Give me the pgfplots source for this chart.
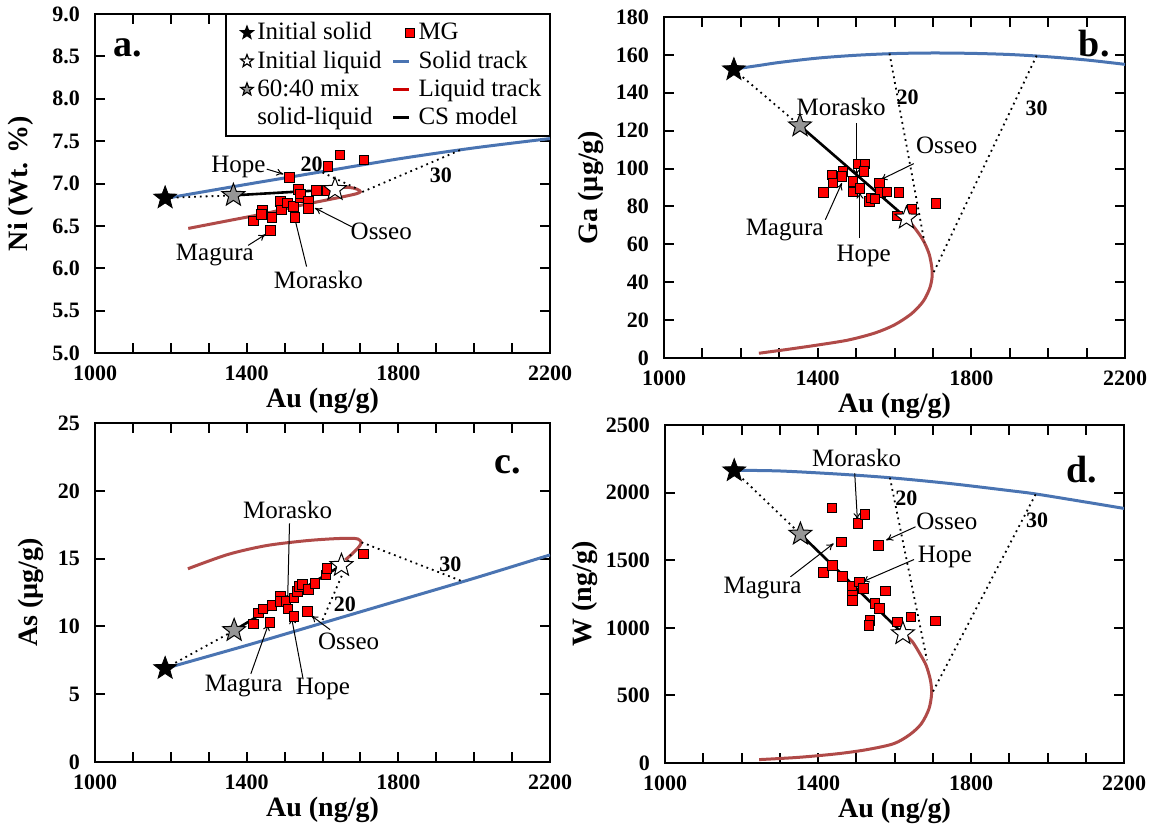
\documentclass[border=0pt]{standalone}
\usepackage{fontspec}
\setmainfont{Liberation Serif}
\usepackage{pgfplots}
\pgfplotsset{compat=1.18}
\usetikzlibrary{arrows.meta}

\definecolor{soltrk}{RGB}{74,116,178}
\definecolor{liqtrk}{RGB}{176,74,72}
\definecolor{mgred}{RGB}{255,0,0}
\definecolor{mixgrey}{RGB}{150,150,150}

\pgfdeclareplotmark{pstar}{%
  \pgfpathmoveto{\pgfpointpolar{90}{\pgfplotmarksize}}%
  \pgfpathlineto{\pgfpointpolar{126}{0.42*\pgfplotmarksize}}%
  \pgfpathlineto{\pgfpointpolar{162}{\pgfplotmarksize}}%
  \pgfpathlineto{\pgfpointpolar{198}{0.42*\pgfplotmarksize}}%
  \pgfpathlineto{\pgfpointpolar{234}{\pgfplotmarksize}}%
  \pgfpathlineto{\pgfpointpolar{270}{0.42*\pgfplotmarksize}}%
  \pgfpathlineto{\pgfpointpolar{306}{\pgfplotmarksize}}%
  \pgfpathlineto{\pgfpointpolar{342}{0.42*\pgfplotmarksize}}%
  \pgfpathlineto{\pgfpointpolar{18}{\pgfplotmarksize}}%
  \pgfpathlineto{\pgfpointpolar{54}{0.42*\pgfplotmarksize}}%
  \pgfpathclose
  \pgfusepathqfillstroke
}

\pgfplotsset{
  panel/.style={
    scale only axis,
    xmin=1000, xmax=2200,
    xtick={1000,1400,1800,2200},
    minor xtick={1100,1200,1300,1500,1600,1700,1900,2000,2100},
    xtick pos=both, ytick pos=both,
    xtick align=inside, ytick align=inside,
    major tick length=5pt, minor tick length=5pt,
    axis line style={line width=1pt},
    major tick style={draw=black, line width=1pt},
    minor tick style={draw=black, line width=1pt},
    tick label style={font=\bfseries\fontsize{11}{12}\selectfont},
    xticklabel style={yshift=-3pt},
    yticklabel style={xshift=-4pt},
    /pgf/number format/assume math mode=true,
    /pgf/number format/1000 sep={},
    xlabel={Au (ng/g)},
    xlabel style={at={([yshift=-24pt]axis description cs:0.5,0)}, anchor=center,
      font=\bfseries\fontsize{14}{16}\selectfont},
  },
  ylab/.style={ylabel style={at={([xshift=-#1]axis description cs:0,0.5)}, anchor=center,
      font=\bfseries\fontsize{14}{16}\selectfont}},
  soltrack/.style={soltrk, line width=1.5pt, smooth},
  liqtrack/.style={liqtrk, line width=1.5pt, smooth},
  tie/.style={black, dotted, line width=0.9pt},
  csline/.style={black, line width=1.3pt},
  mg/.style={only marks, mark=square*, mark size=2.4pt, mark options={fill=mgred, draw=black, line width=0.3pt}},
  sstar/.style={only marks, mark=pstar, mark size=6pt, mark options={fill=black, draw=black, line width=0.4pt}},
  lstar/.style={only marks, mark=pstar, mark size=6pt, mark options={fill=white, draw=black, line width=0.5pt}},
  mstar/.style={only marks, mark=pstar, mark size=6pt, mark options={fill=mixgrey, draw=black, line width=0.5pt}},
}
\tikzset{
  ann/.style={font=\fontsize{12.5}{14}\selectfont},
  bnum/.style={font=\bfseries\fontsize{11}{12}\selectfont},
  plab/.style={font=\bfseries\fontsize{19}{20}\selectfont},
  annarrow/.style={-{To[length=3.5pt,width=3.5pt]}, line width=0.5pt, black},
}

\begin{document}
\begin{tikzpicture}
\useasboundingbox (0,0) rectangle (579pt,-414pt);

% ---------------- panel a ----------------
\begin{axis}[panel, ylab=37pt, at={(47.5pt,-176.5pt)}, anchor=south west,
  width=227.5pt, height=169.5pt,
  ymin=5, ymax=9, ytick={5,5.5,6,6.5,7,7.5,8,8.5,9},
  yticklabel style={/pgf/number format/.cd, fixed, fixed zerofill, precision=1},
  ylabel={Ni (Wt. \%)},
  legend columns=2,
  legend cell align=left,
  legend style={at={(1,1)}, anchor=north east, draw=black, line width=0.6pt, fill=white,
    font=\fontsize{12.5}{13}\selectfont, row sep=0pt, inner sep=2pt,
    /tikz/every even column/.append style={column sep=3pt}},
]
\addplot[soltrack, forget plot] coordinates {(1180,6.82)(1400,6.99)(1600,7.14)(1800,7.29)(2000,7.42)(2200,7.53)};
\addplot[liqtrack, forget plot] coordinates {(1630,6.95)(1668,6.955)(1690,6.935)(1700,6.905)(1690,6.88)(1650,6.84)(1550,6.75)(1453,6.65)(1350,6.56)(1246,6.47)};
\addplot[tie, forget plot] coordinates {(1185,6.83)(1365,6.86)};
\addplot[tie, forget plot] coordinates {(1600,7.13)(1695,6.93)};
\addplot[tie, forget plot] coordinates {(1705,6.90)(1966,7.40)};
\addplot[mg, forget plot] coordinates {(1417,6.56)(1441,6.69)(1438,6.64)(1466,6.60)(1463,6.45)(1488,6.79)(1492,6.69)(1507,6.77)(1512,7.07)(1527,6.60)(1523,6.73)(1536,6.93)(1541,6.83)(1541,6.88)(1562,6.79)(1562,6.71)(1583,6.92)(1611,6.92)(1614,7.20)(1646,7.34)(1709,7.28)};
\addplot[csline, forget plot] coordinates {(1365,6.86)(1633,6.93)};
\addplot[sstar, forget plot] coordinates {(1185,6.83)};
\addplot[mstar, forget plot] coordinates {(1365,6.86)};
\addplot[lstar, forget plot] coordinates {(1633,6.93)};
\node[ann] at (axis cs:1378,7.20) {Hope};
\draw[annarrow] (axis cs:1453,7.17) -- (axis cs:1497,7.11);
\node[ann] at (axis cs:1755,6.43) {Osseo};
\draw[annarrow] (axis cs:1677,6.49) -- (axis cs:1580,6.71);
\node[ann] at (axis cs:1316,6.16) {Magura};
\draw[annarrow] (axis cs:1404,6.27) -- (axis cs:1450,6.40);
\node[ann] at (axis cs:1589,5.86) {Morasko};
\draw[annarrow] (axis cs:1558,6.02) -- (axis cs:1519,6.73);
\node[bnum] at (axis cs:1571,7.23) {20};
\node[bnum] at (axis cs:1912,7.10) {30};
\node[plab] at (axis cs:1087,8.6) {a.};
% legend
\addlegendimage{only marks, mark=pstar, mark size=3.3pt, mark options={fill=black, draw=black}}
\addlegendentry{Initial solid}
\addlegendimage{only marks, mark=square*, mark size=2.2pt, mark options={fill=mgred, draw=black, line width=0.3pt}}
\addlegendentry{MG}
\addlegendimage{only marks, mark=pstar, mark size=3.3pt, mark options={fill=white, draw=black}}
\addlegendentry{Initial liquid}
\addlegendimage{legend image code/.code={\draw[soltrk, line width=1.5pt] (0pt,0pt) -- (8pt,0pt);}}
\addlegendentry{Solid track}
\addlegendimage{only marks, mark=pstar, mark size=3.3pt, mark options={fill=mixgrey, draw=black}}
\addlegendentry{60:40 mix}
\addlegendimage{legend image code/.code={\draw[red!80!black, line width=1.5pt] (0pt,0pt) -- (8pt,0pt);}}
\addlegendentry{Liquid track}
\addlegendimage{empty legend}
\addlegendentry{solid-liquid}
\addlegendimage{legend image code/.code={\draw[black, line width=1.5pt] (0pt,0pt) -- (8pt,0pt);}}
\addlegendentry{CS model}
\end{axis}

% ---------------- panel b ----------------
\begin{axis}[panel, ylab=36.5pt, at={(332pt,-179pt)}, anchor=south west,
  width=230.5pt, height=170.5pt,
  ymin=0, ymax=180, ytick={0,20,...,180},
  ylabel={Ga (µg/g)},
]
\addplot[soltrack] coordinates {(1182,152.5)(1250,154.5)(1300,156)(1400,158.3)(1500,159.8)(1600,160.7)(1700,161)(1800,160.8)(1900,160.2)(2000,159)(2100,157.3)(2200,155)};
\addplot[liqtrack] coordinates {(1631,74)(1655,68)(1675,62)(1690,55)(1697,48)(1698,43)(1692,37)(1675,30)(1645,23.5)(1600,17.5)(1549,13.2)(1480,9.5)(1405,7)(1320,4.5)(1247,2.5)};
\addplot[tie] coordinates {(1182,152.2)(1354,122.6)};
\addplot[tie] coordinates {(1587,160.7)(1678,61)};
\addplot[tie] coordinates {(1970,159.6)(1699,44)};
\addplot[mg] coordinates {(1415,87.4)(1437,96.8)(1439,92.4)(1465,98.6)(1463,95.9)(1491,93.2)(1491,87.8)(1504,102.6)(1510,89.6)(1523,102.6)(1520,98.6)(1534,82.7)(1539,84.5)(1560,92.4)(1563,87.4)(1549,84)(1580,87.8)(1611,87.4)(1608,75.1)(1645,78.6)(1707,81.5)};
\addplot[csline] coordinates {(1354,122.6)(1631,73.9)};
\addplot[sstar] coordinates {(1182,152.2)};
\addplot[mstar] coordinates {(1354,122.6)};
\addplot[lstar] coordinates {(1631,73.9)};
\node[ann] at (axis cs:1461,132.7) {Morasko};
\draw[annarrow] (axis cs:1501,124) -- (axis cs:1501,96);
\node[ann] at (axis cs:1736,112) {Osseo};
\draw[annarrow] (axis cs:1650,102.6) -- (axis cs:1563,94);
\node[ann] at (axis cs:1314,67.7) {Magura};
\draw[annarrow] (axis cs:1420,73) -- (axis cs:1463,92.4);
\node[ann] at (axis cs:1520,53.7) {Hope};
\draw[annarrow] (axis cs:1510,63.3) -- (axis cs:1510,87.8);
\node[bnum] at (axis cs:1634,137.5) {20};
\node[bnum] at (axis cs:1970,132) {30};
\node[plab] at (axis cs:2120,166) {b.};
\end{axis}

% ---------------- panel c ----------------
\begin{axis}[panel, ylab=32pt, at={(47.5pt,-381pt)}, anchor=south west,
  width=227.5pt, height=169.5pt,
  ymin=0, ymax=25, ytick={0,5,...,25},
  ylabel={As (µg/g)},
]
\addplot[soltrack] coordinates {(1185,6.9)(1400,8.6)(1600,10.25)(1800,11.9)(2000,13.55)(2200,15.27)};
\addplot[liqtrack] coordinates {(1660,14.9)(1680,15.4)(1697,15.9)(1702,16.2)(1693,16.45)(1670,16.5)(1620,16.45)(1550,16.3)(1450,15.95)(1350,15.3)(1245,14.25)};
\addplot[tie] coordinates {(1185,6.9)(1367,9.7)};
\addplot[tie] coordinates {(1675,15.3)(1596,10.2)};
\addplot[tie] coordinates {(1703,16.2)(1971,13.3)};
\addplot[mg] coordinates {(1417,10.2)(1431,11.0)(1443,11.3)(1466,11.55)(1461,10.3)(1489,12.2)(1489,11.85)(1503,11.85)(1508,11.3)(1524,12.1)(1524,10.75)(1533,12.6)(1539,12.95)(1546,13.1)(1562,12.75)(1560,11.1)(1580,13.2)(1609,13.8)(1611,14.3)(1708,15.35)};
\addplot[csline] coordinates {(1367,9.7)(1650,14.5)};
\addplot[sstar] coordinates {(1185,6.9)};
\addplot[mstar] coordinates {(1367,9.7)};
\addplot[lstar] coordinates {(1650,14.5)};
\node[ann] at (axis cs:1508,18.6) {Morasko};
\draw[annarrow] (axis cs:1513,17.6) -- (axis cs:1508,11.9);
\node[ann] at (axis cs:1392,5.6) {Magura};
\draw[annarrow] (axis cs:1411,6.5) -- (axis cs:1458,10.2);
\node[ann] at (axis cs:1601,5.35) {Hope};
\draw[annarrow] (axis cs:1549,6.1) -- (axis cs:1518,10.7);
\node[ann] at (axis cs:1669,8.9) {Osseo};
\draw[annarrow] (axis cs:1620,9.76) -- (axis cs:1570,10.8);
\node[bnum] at (axis cs:1937,14.55) {30};
\node[bnum] at (axis cs:1659,11.6) {20};
\node[plab] at (axis cs:2088,21.9) {c.};
\end{axis}

% ---------------- panel d ----------------
\begin{axis}[panel, ylab=40pt, at={(332.5pt,-381.5pt)}, anchor=south west,
  width=229.5pt, height=169pt,
  ymin=0, ymax=2500, ytick={0,500,...,2500},
  ylabel={W (ng/g)},
]
\addplot[soltrack] coordinates {(1181,2165)(1300,2160)(1453,2137)(1588,2110)(1742,2068)(1900,2015)(1969,1990)(2100,1930)(2200,1883)};
\addplot[liqtrack] coordinates {(1622,957)(1646,900)(1668,800)(1683,720)(1694,612)(1697,513)(1690,400)(1670,290)(1640,210)(1598,143)(1530,100)(1453,69)(1350,42)(1246,25)};
\addplot[tie] coordinates {(1181,2162)(1354,1693)};
\addplot[tie] coordinates {(1588,2110)(1685,760)};
\addplot[tie] coordinates {(1969,1987)(1699,520)};
\addplot[mg] coordinates {(1436,1888)(1504,1772)(1522,1839)(1461,1636)(1557,1611)(1414,1409)(1438,1463)(1463,1382)(1488,1310)(1489,1241)(1489,1204)(1508,1340)(1519,1291)(1576,1273)(1549,1179)(1561,1143)(1535,1056)(1533,1019)(1607,1044)(1643,1081)(1706,1051)};
\addplot[csline] coordinates {(1354,1693)(1622,957)};
\addplot[sstar] coordinates {(1181,2162)};
\addplot[mstar] coordinates {(1354,1693)};
\addplot[lstar] coordinates {(1622,957)};
\node[ann] at (axis cs:1501,2253) {Morasko};
\draw[annarrow] (axis cs:1496,2142) -- (axis cs:1503,1797);
\node[ann] at (axis cs:1737,1784) {Osseo};
\draw[annarrow] (axis cs:1655,1747) -- (axis cs:1578,1648);
\node[ann] at (axis cs:1732,1525) {Hope};
\draw[annarrow] (axis cs:1651,1505) -- (axis cs:1516,1340);
\node[ann] at (axis cs:1255,1296) {Magura};
\draw[annarrow] (axis cs:1328,1377) -- (axis cs:1441,1624);
\node[bnum] at (axis cs:1631,1957) {20};
\node[bnum] at (axis cs:1973,1797) {30};
\node[plab] at (axis cs:2089,2167) {d.};
\end{axis}
\end{tikzpicture}
\end{document}
